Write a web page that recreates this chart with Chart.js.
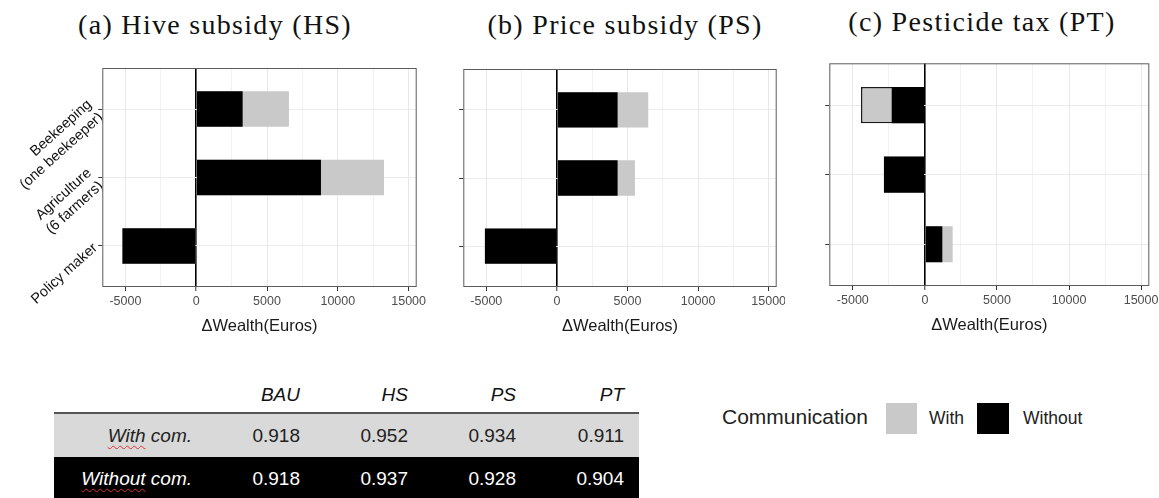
<!DOCTYPE html>
<html>
<head>
<meta charset="utf-8">
<script src="https://cdn.jsdelivr.net/npm/chart.js@4.4.0/dist/chart.umd.min.js"></script>
<style>
  body { margin: 0; width: 1159px; height: 498px; background: #fff; position: relative; overflow: hidden;
         font-family: "Liberation Sans", Arial, sans-serif; }
  canvas { position: absolute; }
  .ttl { position: absolute; font-family: "Liberation Serif", serif; font-size: 28px; line-height: 28px;
         letter-spacing: 1.3px; white-space: nowrap; transform: translateX(-50%); color: #111; }
  #scores { position: absolute; left: 54px; top: 378px; border-collapse: collapse; font-size: 19px; color: #222; }
  #scores th { font-weight: normal; font-style: italic; text-align: right; height: 34px; padding: 0 15px 0 0;
               border-bottom: 2px solid #555; color: #111; }
  #scores td { text-align: right; height: 43px; padding: 0 15px 0 0; }
  #scores td.lab { font-style: italic; }
  #scores tr.with td { background: #d9d9d9; }
  #scores tr.without td { background: #000; color: #fff; }
  .sq { text-decoration: underline wavy #e03030; text-decoration-thickness: 1px; text-underline-offset: 3px; }
  .lg { position: absolute; white-space: nowrap; color: #222; }
  .box { position: absolute; top: 403px; width: 31px; height: 31px; }
</style>
</head>
<body>

<div class="ttl" style="left:215px; top:11px">(a) Hive subsidy (HS)</div>
<div class="ttl" style="left:625px; top:11px">(b) Price subsidy (PS)</div>
<div class="ttl" style="left:982px; top:8px">(c) Pesticide tax (PT)</div>

<canvas id="chartA" width="432" height="307" style="left:0px; top:40px"></canvas>
<canvas id="chartB" width="353" height="307" style="left:432px; top:40px"></canvas>
<canvas id="chartC" width="369" height="306" style="left:790px; top:40px"></canvas>

<table id="scores"></table>

<div class="lg" id="lgTitle" style="left:722px; top:405px; font-size:21px">Communication</div>
<div class="box" style="left:886px; background:#c9c9c9"></div>
<div class="lg" id="lgWith" style="left:929px; top:408px; font-size:17.5px"></div>
<div class="box" style="left:977px; width:32px; background:#000"></div>
<div class="lg" id="lgWithout" style="left:1023px; top:408px; font-size:17.5px"></div>

<script>
const categories = [['Beekeeping', '(one beekeeper)'], ['Agriculture', '(6 farmers)'], 'Policy maker'];
const catPos = categories.map((c, i) => i + 1);

const xMajor = [-5000, 0, 5000, 10000, 15000];
const xMinor = [-2500, 2500, 7500, 12500];

// change of wealth in euros
const hsWithout = [3280, 8810, -5210];
const hsWith    = [6550, 13260, -5210];
const psWithout = [4300, 4300, -5100];
const psWith    = [6470, 5530, -5100];
const ptWithout = [-2300, -2840, 1210];
const ptWith    = [-4430, -2840, 1930];

const seriesNames = ['With', 'Without'];

// table under the charts
const colNames = ['BAU', 'HS', 'PS', 'PT'];
const rowNames = ['With com.', 'Without com.'];
const withScores = [0.918, 0.952, 0.934, 0.911];
const withoutScores = [0.918, 0.937, 0.928, 0.904];

Chart.defaults.font.family = '"Liberation Sans", Arial, sans-serif';

// grey frame round the plot area
const panelBorder = {
    id: 'panelBorder',
    afterDatasetsDraw(chart) {
        const { ctx, chartArea: a } = chart;
        ctx.save();
        ctx.strokeStyle = '#5c5c5c';
        ctx.lineWidth = 1;
        ctx.strokeRect(a.left + 0.5, a.top + 0.5, a.width - 1, a.height - 1);
        ctx.restore();
    }
};

function makeChart(id, withVals, withoutVals, opts) {
    const ctx = document.getElementById(id).getContext('2d');
    return new Chart(ctx, {
        type: 'bar',
        data: {
            datasets: [{
                label: seriesNames[1],
                data: withoutVals.map((v, i) => ({ x: v, y: catPos[i] })),
                backgroundColor: '#000000',
                borderWidth: 0,
                grouped: false,
                barPercentage: 0.52,
                categoryPercentage: 1
            }, {
                label: seriesNames[0],
                data: withVals.map((v, i) => ({ x: v, y: catPos[i] })),
                backgroundColor: '#c9c9c9',
                borderColor: '#1a1a1a',
                borderWidth: opts.withBorder || 0,
                grouped: false,
                barPercentage: 0.52,
                categoryPercentage: 1
            }]
        },
        options: {
            indexAxis: 'y',
            responsive: false,
            animation: false,
            devicePixelRatio: 1,
            layout: { padding: opts.padding },
            plugins: { legend: { display: false }, tooltip: { enabled: false } },
            scales: {
                x: {
                    type: 'linear',
                    min: -6630,
                    max: 15570,
                    afterBuildTicks: (s) => {
                        s.ticks = xMajor.concat(xMinor).sort((a, b) => a - b).map(v => ({ value: v }));
                    },
                    afterFit: (s) => { s.paddingLeft = 0; s.paddingRight = 0; s.height = 60; },
                    border: { display: false },
                    grid: {
                        color: (c) => c.tick.value === 0 ? '#000000' : (xMajor.includes(c.tick.value) ? '#e8e8e8' : '#f1f1f1'),
                        lineWidth: (c) => c.tick.value === 0 ? 1.6 : 1,
                        tickColor: (c) => xMajor.includes(c.tick.value) ? '#333333' : 'rgba(0,0,0,0)',
                        tickWidth: 1,
                        tickLength: 4
                    },
                    ticks: {
                        autoSkip: false,
                        maxRotation: 0,
                        padding: 3,
                        color: '#4d4d4d',
                        font: { size: 12.5 },
                        callback: (v) => xMajor.includes(v) ? String(v) : ''
                    },
                    title: {
                        display: true,
                        text: 'ΔWealth(Euros)',
                        color: '#1a1a1a',
                        font: { size: 16.5 },
                        padding: { top: 0, bottom: 11 }
                    }
                },
                y: {
                    type: 'linear',
                    min: 0.4,
                    max: 3.6,
                    reverse: true,
                    offset: false,
                    afterBuildTicks: (s) => { s.ticks = catPos.map(v => ({ value: v })); },
                    afterFit: (s) => { s.width = opts.yWidth; s.paddingTop = 0; s.paddingBottom = 0; },
                    border: { display: false },
                    grid: { offset: false, color: '#ebebeb', lineWidth: 1, tickColor: '#333333', tickLength: 4 },
                    ticks: {
                        autoSkip: false,
                        minRotation: opts.showLabels ? 42 : 0,
                        maxRotation: 42,
                        padding: 3,
                        color: '#111111',
                        font: { size: 14.5 },
                        callback: (v) => opts.showLabels ? categories[v - 1] : ''
                    }
                }
            }
        },
        plugins: [panelBorder]
    });
}

const chart_a = makeChart('chartA', hsWith, hsWithout,
    { showLabels: true, yWidth: 102.3, padding: { left: 0, top: 28, right: 15.3, bottom: 0 } });
const chart_b = makeChart('chartB', psWith, psWithout,
    { showLabels: false, yWidth: 31.3, padding: { left: 0, top: 29, right: 8.3, bottom: 0 } });
const chart_c = makeChart('chartC', ptWith, ptWithout,
    { showLabels: false, yWidth: 39.3, withBorder: [1.5, 0, 0], padding: { left: 0, top: 23.3, right: 9.7, bottom: 0 } });

// build the table
const table = document.getElementById('scores');
let html = '<tr><th style="width:138px"></th>' + colNames.map(c => '<th style="width:93px">' + c + '</th>').join('') + '</tr>';
[withScores, withoutScores].forEach((row, r) => {
    const words = rowNames[r].split(' ');
    html += '<tr class="' + (r === 0 ? 'with' : 'without') + '"><td class="lab"><span class="sq">' + words[0] + '</span> ' + words.slice(1).join(' ') + '</td>';
    html += row.map(v => '<td>' + v.toFixed(3) + '</td>').join('') + '</tr>';
});
table.innerHTML = html;

document.getElementById('lgWith').textContent = seriesNames[0];
document.getElementById('lgWithout').textContent = seriesNames[1];
</script>
</body>
</html>
